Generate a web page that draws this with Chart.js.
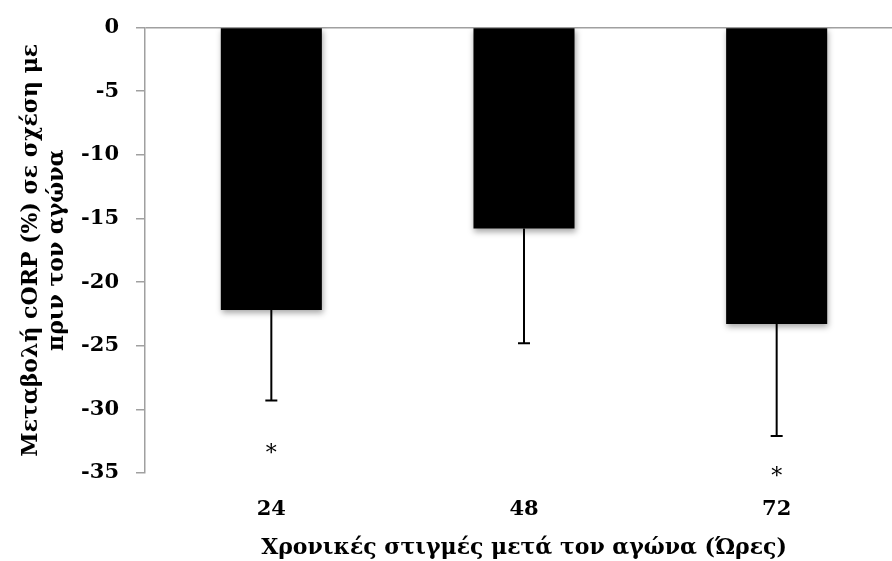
<!DOCTYPE html>
<html>
<head>
<meta charset="utf-8">
<script src="https://cdn.jsdelivr.net/npm/chart.js@4.4.0/dist/chart.umd.min.js"></script>
<style>
  html, body { margin: 0; padding: 0; background: #fff; overflow: hidden; }
  #wrap { width: 905px; height: 561px; position: relative; }
</style>
</head>
<body>
<div id="wrap"><canvas id="myChart"></canvas></div>
<script>
// data block
const hours = ['24', '48', '72'];
const changes = [-22.2, -15.8, -23.3];
const errors = [7.1, 9.0, 8.8];
const stars = [-33.2, null, -35];
const yTicks = [0, -5, -10, -15, -20, -25, -30, -35];

const FONT = "'DejaVu Serif', serif";
const axisGray = '#a0a0a0';

// soft shadow under the bars
const barShadow = {
    id: 'barShadow',
    beforeDatasetsDraw(chart) {
        const ctx = chart.ctx;
        ctx.save();
        ctx.shadowColor = 'rgba(0,0,0,0.35)';
        ctx.shadowBlur = 6;
        ctx.shadowOffsetX = 1;
        ctx.shadowOffsetY = 3;
    },
    afterDatasetsDraw(chart) {
        chart.ctx.restore();
    }
};

// one-sided error bars + asterisks
const errorBars = {
    id: 'errorBars',
    afterDatasetsDraw(chart) {
        const ctx = chart.ctx;
        const y = chart.scales.y;
        const meta = chart.getDatasetMeta(0);
        ctx.save();
        ctx.strokeStyle = '#000';
        ctx.lineWidth = 2;
        meta.data.forEach((bar, i) => {
            const x = bar.x;
            const y0 = y.getPixelForValue(changes[i]);
            const y1 = y.getPixelForValue(changes[i] - errors[i]);
            ctx.beginPath();
            ctx.moveTo(x, y0);
            ctx.lineTo(x, y1);
            ctx.moveTo(x - 6, y1);
            ctx.lineTo(x + 6, y1);
            ctx.stroke();
            if (stars[i] !== null) {
                ctx.fillStyle = '#000';
                ctx.font = "22px " + FONT;
                ctx.textAlign = 'center';
                ctx.textBaseline = 'middle';
                ctx.fillText('*', x, y.getPixelForValue(stars[i]) + 4);
            }
        });
        ctx.restore();
    }
};

// config block
const config = {
    type: 'bar',
    data: {
        labels: hours,
        datasets: [{
            data: changes,
            backgroundColor: '#000',
            borderWidth: 0,
            barPercentage: 0.4,
            categoryPercentage: 1.0
        }]
    },
    options: {
        responsive: true,
        maintainAspectRatio: false,
        animation: false,
        layout: { padding: { top: 26, right: 2, left: 0, bottom: 0 } },
        plugins: {
            legend: { display: false },
            tooltip: { enabled: false }
        },
        scales: {
            x: {
                grid: { display: false, drawTicks: false },
                border: { display: false },
                ticks: {
                    color: '#000',
                    padding: 24,
                    font: { family: FONT, size: 21, weight: 'bold' }
                },
                title: {
                    display: true,
                    text: 'Χρονικές στιγμές μετά τον αγώνα (Ώρες)',
                    color: '#000',
                    padding: { top: 2, bottom: 0 },
                    font: { family: FONT, size: 22, weight: 'bold' }
                },
                afterFit: s => { s.height = 88; }
            },
            y: {
                min: -35,
                max: 0,
                afterBuildTicks: s => { s.ticks = yTicks.map(v => ({ value: v })); },
                grid: {
                    color: c => (c.tick && c.tick.value === 0) ? axisGray : 'transparent',
                    tickColor: axisGray,
                    tickLength: 9,
                    lineWidth: 1.5
                },
                border: { display: true, color: axisGray, width: 1.5 },
                ticks: {
                    color: '#000',
                    padding: 17,
                    font: { family: FONT, size: 21, weight: 'bold', lineHeight: 1 }
                },
                title: {
                    display: true,
                    text: ['Μεταβολή cORP (%) σε σχέση με', 'πριν τον αγώνα'],
                    color: '#000',
                    padding: { top: 18, bottom: 0 },
                    font: { family: FONT, size: 22, weight: 'bold', lineHeight: 1.2 }
                },
                afterFit: s => { s.width = 145; }
            }
        }
    },
    plugins: [barShadow, errorBars]
};

// init render block
const myChart = new Chart(
    document.getElementById('myChart'),
    config
);
</script>
</body>
</html>
